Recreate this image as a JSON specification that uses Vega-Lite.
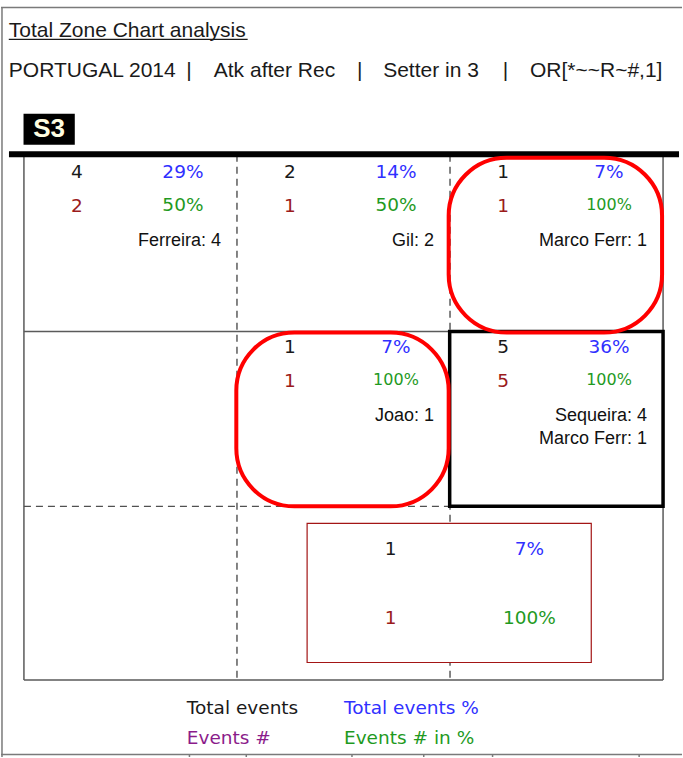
{
  "$schema": "https://vega.github.io/schema/vega-lite/v6.json",
  "width": 683,
  "height": 758,
  "autosize": {"type": "fit", "contains": "padding"},
  "padding": 0,
  "background": "white",
  "config": {"view": {"stroke": null}},
  "datasets": {
    "frame": [
      {"x": -0.1076, "x2": 3.0889, "y": -0.8413, "y2": -0.8413},
      {"x": -0.1030, "x2": -0.1030, "y": -0.8413, "y2": 3.4392},
      {"x": -0.1076, "x2": 3.0889, "y": 3.4250, "y2": 3.4250},
      {"x": 0.7769, "x2": 0.7769, "y": 3.4250, "y2": 3.4392},
      {"x": 1.0437, "x2": 1.0437, "y": 3.4250, "y2": 3.4392},
      {"x": 1.5398, "x2": 1.5398, "y": 3.4250, "y2": 3.4392},
      {"x": 1.8767, "x2": 1.8767, "y": 3.4250, "y2": 3.4392},
      {"x": 2.1997, "x2": 2.1997, "y": 3.4250, "y2": 3.4392},
      {"x": 2.8877, "x2": 2.8877, "y": 3.4250, "y2": 3.4392}
    ],
    "courtSolid": [
      {"x": 0, "x2": 0, "y": 0, "y2": 3},
      {"x": 3, "x2": 3, "y": 0, "y2": 3},
      {"x": 0, "x2": 3, "y": 3, "y2": 3},
      {"x": 0, "x2": 3, "y": 1.0095, "y2": 1.0095}
    ],
    "courtDash": [
      {"x": 1, "x2": 1, "y": 0, "y2": 3},
      {"x": 2, "x2": 2, "y": 0, "y2": 3},
      {"x": 0, "x2": 2, "y": 2.0076, "y2": 2.0076}
    ],
    "netLine": [
      {"x": -0.0702, "x2": 3.0749, "y": -0.003, "y2": -0.003}
    ],
    "underline": [
      {"x": -0.0711, "x2": 1.0502, "y": -0.6588, "y2": -0.6588}
    ],
    "bestZone": [
      {"x": 1.9984, "x2": 3.0, "y": 1.0095, "y2": 2.0076}
    ],
    "circled": [
      {"x": 1.9937, "x2": 2.9953, "y": 0.0171, "y2": 1.0152},
      {"x": 0.9969, "x2": 1.9937, "y": 1.0152, "y2": 2.0076}
    ],
    "otherBox": [
      {"x": 1.3292, "x2": 2.663, "y": 2.1046, "y2": 2.8995}
    ],
    "setterBox": [
      {"x": -0.0019, "x2": 0.2387, "y": -0.2338, "y2": -0.0570, "label": "S3", "cx": 0.1184, "cy": -0.1454}
    ],
    "header": [
      {"x": -0.0711, "y": -0.6713, "label": "Total Zone Chart analysis"},
      {"x": -0.0711, "y": -0.4449, "label": "PORTUGAL 2014"},
      {"x": 0.7623, "y": -0.4449, "label": "|"},
      {"x": 0.8911, "y": -0.4449, "label": "Atk after Rec"},
      {"x": 1.5636, "y": -0.4449, "label": "|"},
      {"x": 1.6863, "y": -0.4449, "label": "Setter in 3"},
      {"x": 2.2479, "y": -0.4449, "label": "|"},
      {"x": 2.3752, "y": -0.4449, "label": "OR[*~~R~#,1]"}
    ],
    "cells": [
      {"col": 0, "row": 0, "total": 4, "pct": "29%", "events": 2, "evpct": "50%", "names": ["Ferreira: 4"]},
      {"col": 1, "row": 0, "total": 2, "pct": "14%", "events": 1, "evpct": "50%", "names": ["Gil: 2"]},
      {"col": 2, "row": 0, "total": 1, "pct": "7%", "events": 1, "evpct": "100%", "names": ["Marco Ferr: 1"]},
      {"col": 1, "row": 1, "total": 1, "pct": "7%", "events": 1, "evpct": "100%", "names": ["Joao: 1"]},
      {"col": 2, "row": 1, "total": 5, "pct": "36%", "events": 5, "evpct": "100%", "names": ["Sequeira: 4", "Marco Ferr: 1"]}
    ],
    "otherText": [
      {"x": 1.7209, "y": 2.2529, "label": "1", "kind": "total"},
      {"x": 2.3728, "y": 2.2529, "label": "7%", "kind": "pct"},
      {"x": 1.7209, "y": 2.6435, "label": "1", "kind": "events"},
      {"x": 2.3728, "y": 2.6435, "label": "100%", "kind": "evpct"}
    ],
    "legendText": [
      {"x": 0.7647, "y": 3.1939, "label": "Total events", "kind": "total"},
      {"x": 1.5023, "y": 3.1939, "label": "Total events %", "kind": "pct"},
      {"x": 0.7647, "y": 3.3651, "label": "Events #", "kind": "legEvents"},
      {"x": 1.5023, "y": 3.3651, "label": "Events # in %", "kind": "evpct"}
    ]
  },
  "layer": [
    {
      "data": {"name": "frame"},
      "mark": {"type": "rule", "color": "#7a7a7a", "strokeWidth": 1.5},
      "encoding": {
        "x": {"field": "x", "type": "quantitative", "scale": {"domain": [-0.10764, 3.0889], "nice": false, "zero": false}, "axis": null},
        "x2": {"field": "x2"},
        "y": {"field": "y", "type": "quantitative", "scale": {"domain": [-0.88403, 3.43917], "nice": false, "zero": false, "reverse": true}, "axis": null},
        "y2": {"field": "y2"}
      }
    },
    {
      "data": {"name": "courtSolid"},
      "mark": {"type": "rule", "color": "#5a5a5a", "strokeWidth": 1.5},
      "encoding": {
        "x": {"field": "x", "type": "quantitative", "scale": {"domain": [-0.10764, 3.0889], "nice": false, "zero": false}, "axis": null},
        "x2": {"field": "x2"},
        "y": {"field": "y", "type": "quantitative", "scale": {"domain": [-0.88403, 3.43917], "nice": false, "zero": false, "reverse": true}, "axis": null},
        "y2": {"field": "y2"}
      }
    },
    {
      "data": {"name": "courtDash"},
      "mark": {"type": "rule", "color": "#505050", "strokeWidth": 1.4, "strokeDash": [7, 5]},
      "encoding": {
        "x": {"field": "x", "type": "quantitative", "scale": {"domain": [-0.10764, 3.0889], "nice": false, "zero": false}, "axis": null},
        "x2": {"field": "x2"},
        "y": {"field": "y", "type": "quantitative", "scale": {"domain": [-0.88403, 3.43917], "nice": false, "zero": false, "reverse": true}, "axis": null},
        "y2": {"field": "y2"}
      }
    },
    {
      "data": {"name": "netLine"},
      "mark": {"type": "rule", "color": "#000000", "strokeWidth": 6},
      "encoding": {
        "x": {"field": "x", "type": "quantitative", "scale": {"domain": [-0.10764, 3.0889], "nice": false, "zero": false}, "axis": null},
        "x2": {"field": "x2"},
        "y": {"field": "y", "type": "quantitative", "scale": {"domain": [-0.88403, 3.43917], "nice": false, "zero": false, "reverse": true}, "axis": null},
        "y2": {"field": "y2"}
      }
    },
    {
      "data": {"name": "underline"},
      "mark": {"type": "rule", "color": "#1a1a1a", "strokeWidth": 1.2},
      "encoding": {
        "x": {"field": "x", "type": "quantitative", "scale": {"domain": [-0.10764, 3.0889], "nice": false, "zero": false}, "axis": null},
        "x2": {"field": "x2"},
        "y": {"field": "y", "type": "quantitative", "scale": {"domain": [-0.88403, 3.43917], "nice": false, "zero": false, "reverse": true}, "axis": null},
        "y2": {"field": "y2"}
      }
    },
    {
      "data": {"name": "otherBox"},
      "mark": {"type": "rect", "fill": "white", "stroke": "#a31515", "strokeWidth": 1.2},
      "encoding": {
        "x": {"field": "x", "type": "quantitative", "scale": {"domain": [-0.10764, 3.0889], "nice": false, "zero": false}, "axis": null},
        "x2": {"field": "x2"},
        "y": {"field": "y", "type": "quantitative", "scale": {"domain": [-0.88403, 3.43917], "nice": false, "zero": false, "reverse": true}, "axis": null},
        "y2": {"field": "y2"}
      }
    },
    {
      "data": {"name": "bestZone"},
      "mark": {"type": "rect", "filled": false, "stroke": "#000000", "strokeWidth": 3.5},
      "encoding": {
        "x": {"field": "x", "type": "quantitative", "scale": {"domain": [-0.10764, 3.0889], "nice": false, "zero": false}, "axis": null},
        "x2": {"field": "x2"},
        "y": {"field": "y", "type": "quantitative", "scale": {"domain": [-0.88403, 3.43917], "nice": false, "zero": false, "reverse": true}, "axis": null},
        "y2": {"field": "y2"}
      }
    },
    {
      "data": {"name": "circled"},
      "mark": {"type": "rect", "filled": false, "stroke": "#ff0000", "strokeWidth": 4, "cornerRadius": 58},
      "encoding": {
        "x": {"field": "x", "type": "quantitative", "scale": {"domain": [-0.10764, 3.0889], "nice": false, "zero": false}, "axis": null},
        "x2": {"field": "x2"},
        "y": {"field": "y", "type": "quantitative", "scale": {"domain": [-0.88403, 3.43917], "nice": false, "zero": false, "reverse": true}, "axis": null},
        "y2": {"field": "y2"}
      }
    },
    {
      "data": {"name": "setterBox"},
      "mark": {"type": "rect", "fill": "#000000"},
      "encoding": {
        "x": {"field": "x", "type": "quantitative", "scale": {"domain": [-0.10764, 3.0889], "nice": false, "zero": false}, "axis": null},
        "x2": {"field": "x2"},
        "y": {"field": "y", "type": "quantitative", "scale": {"domain": [-0.88403, 3.43917], "nice": false, "zero": false, "reverse": true}, "axis": null},
        "y2": {"field": "y2"}
      }
    },
    {
      "data": {"name": "setterBox"},
      "mark": {"type": "text", "font": "Liberation Sans", "fontWeight": "bold", "fontSize": 26, "color": "#fffde0", "align": "center", "baseline": "middle"},
      "encoding": {
        "x": {"field": "cx", "type": "quantitative", "scale": {"domain": [-0.10764, 3.0889], "nice": false, "zero": false}, "axis": null},
        "y": {"field": "cy", "type": "quantitative", "scale": {"domain": [-0.88403, 3.43917], "nice": false, "zero": false, "reverse": true}, "axis": null},
        "text": {"field": "label", "type": "nominal"}
      }
    },
    {
      "data": {"name": "header"},
      "mark": {"type": "text", "font": "Liberation Sans", "fontSize": 21, "color": "#1a1a1a", "align": "left", "baseline": "alphabetic"},
      "encoding": {
        "x": {"field": "x", "type": "quantitative", "scale": {"domain": [-0.10764, 3.0889], "nice": false, "zero": false}, "axis": null},
        "y": {"field": "y", "type": "quantitative", "scale": {"domain": [-0.88403, 3.43917], "nice": false, "zero": false, "reverse": true}, "axis": null},
        "text": {"field": "label", "type": "nominal"}
      }
    },
    {
      "data": {"name": "cells"},
      "mark": {"type": "text", "font": "DejaVu Sans", "fontSize": 18.5, "color": "#1a1a1a", "align": "center", "baseline": "middle", "dx": 53, "dy": 17},
      "encoding": {
        "x": {"field": "col", "type": "quantitative", "scale": {"domain": [-0.10764, 3.0889], "nice": false, "zero": false}, "axis": null},
        "y": {"field": "row", "type": "quantitative", "scale": {"domain": [-0.88403, 3.43917], "nice": false, "zero": false, "reverse": true}, "axis": null},
        "text": {"field": "total", "type": "nominal"}
      }
    },
    {
      "data": {"name": "cells"},
      "mark": {"type": "text", "font": "DejaVu Sans", "fontSize": 18.5, "color": "#3030ff", "align": "center", "baseline": "middle", "dx": 159, "dy": 17},
      "encoding": {
        "x": {"field": "col", "type": "quantitative", "scale": {"domain": [-0.10764, 3.0889], "nice": false, "zero": false}, "axis": null},
        "y": {"field": "row", "type": "quantitative", "scale": {"domain": [-0.88403, 3.43917], "nice": false, "zero": false, "reverse": true}, "axis": null},
        "text": {"field": "pct", "type": "nominal"}
      }
    },
    {
      "data": {"name": "cells"},
      "mark": {"type": "text", "font": "DejaVu Sans", "fontSize": 18.5, "color": "#9b1b1b", "align": "center", "baseline": "middle", "dx": 53, "dy": 51},
      "encoding": {
        "x": {"field": "col", "type": "quantitative", "scale": {"domain": [-0.10764, 3.0889], "nice": false, "zero": false}, "axis": null},
        "y": {"field": "row", "type": "quantitative", "scale": {"domain": [-0.88403, 3.43917], "nice": false, "zero": false, "reverse": true}, "axis": null},
        "text": {"field": "events", "type": "nominal"}
      }
    },
    {
      "data": {"name": "cells"},
      "mark": {"type": "text", "font": "DejaVu Sans", "color": "#1f9a1f", "align": "center", "baseline": "middle", "dx": 159, "dy": 50},
      "encoding": {
        "x": {"field": "col", "type": "quantitative", "scale": {"domain": [-0.10764, 3.0889], "nice": false, "zero": false}, "axis": null},
        "y": {"field": "row", "type": "quantitative", "scale": {"domain": [-0.88403, 3.43917], "nice": false, "zero": false, "reverse": true}, "axis": null},
        "text": {"field": "evpct", "type": "nominal"},
        "size": {"condition": {"test": "datum.evpct === '100%'", "value": 16}, "value": 18.5}
      }
    },
    {
      "data": {"name": "cells"},
      "mark": {"type": "text", "font": "Liberation Sans", "fontSize": 18, "color": "#111111", "align": "right", "baseline": "alphabetic", "dx": 197, "dy": 91, "lineHeight": 23},
      "encoding": {
        "x": {"field": "col", "type": "quantitative", "scale": {"domain": [-0.10764, 3.0889], "nice": false, "zero": false}, "axis": null},
        "y": {"field": "row", "type": "quantitative", "scale": {"domain": [-0.88403, 3.43917], "nice": false, "zero": false, "reverse": true}, "axis": null},
        "text": {"field": "names", "type": "nominal"}
      }
    },
    {
      "data": {"name": "otherText"},
      "mark": {"type": "text", "font": "DejaVu Sans", "fontSize": 18.5, "align": "center", "baseline": "middle"},
      "encoding": {
        "x": {"field": "x", "type": "quantitative", "scale": {"domain": [-0.10764, 3.0889], "nice": false, "zero": false}, "axis": null},
        "y": {"field": "y", "type": "quantitative", "scale": {"domain": [-0.88403, 3.43917], "nice": false, "zero": false, "reverse": true}, "axis": null},
        "text": {"field": "label", "type": "nominal"},
        "color": {"field": "kind", "type": "nominal", "scale": {"domain": ["total", "pct", "events", "evpct", "legEvents"], "range": ["#1a1a1a", "#3030ff", "#9b1b1b", "#1f9a1f", "#8b1c8b"]}, "legend": null}
      }
    },
    {
      "data": {"name": "legendText"},
      "mark": {"type": "text", "font": "DejaVu Sans", "fontSize": 18.5, "align": "left", "baseline": "alphabetic"},
      "encoding": {
        "x": {"field": "x", "type": "quantitative", "scale": {"domain": [-0.10764, 3.0889], "nice": false, "zero": false}, "axis": null},
        "y": {"field": "y", "type": "quantitative", "scale": {"domain": [-0.88403, 3.43917], "nice": false, "zero": false, "reverse": true}, "axis": null},
        "text": {"field": "label", "type": "nominal"},
        "color": {"field": "kind", "type": "nominal", "scale": {"domain": ["total", "pct", "events", "evpct", "legEvents"], "range": ["#1a1a1a", "#3030ff", "#9b1b1b", "#1f9a1f", "#8b1c8b"]}, "legend": null}
      }
    }
  ]
}
